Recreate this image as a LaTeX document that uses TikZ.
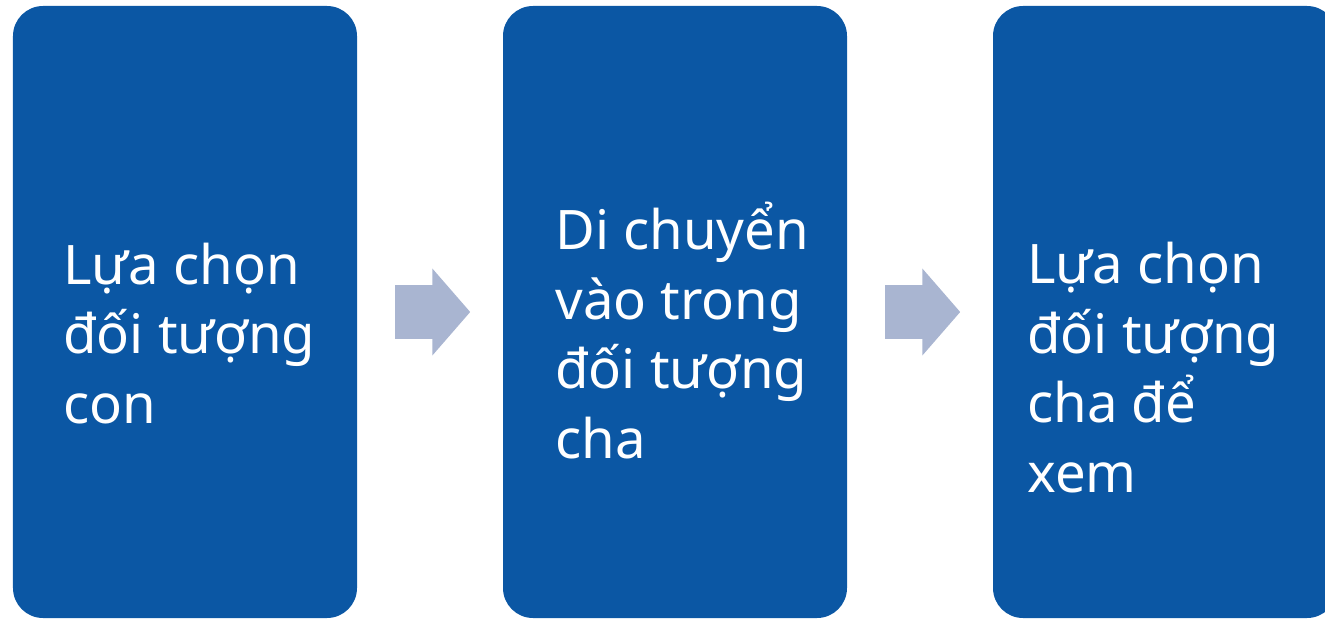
\documentclass[tikz,border=0pt]{standalone}
\usepackage{fontspec}
\setmainfont{Noto Sans}
\usepackage{xcolor}
\usetikzlibrary{calc,shapes.arrows}
\definecolor{boxblue}{RGB}{11,87,164}
\definecolor{arrowgray}{RGB}{169,181,209}

\begin{document}
\begin{tikzpicture}[
    stepbox/.style={rectangle,rounded corners=0.6cm,fill=boxblue,minimum width=6.88cm,minimum height=12.24cm},
    boxtext/.style={text=white,align=left,inner sep=0pt,anchor=base west,font=\fontsize{31}{39.5}\selectfont},
    flowarrow/.style={single arrow,fill=arrowgray,minimum height=1.5cm,inner xsep=0pt,inner ysep=0.53cm,single arrow head extend=0.33cm,single arrow tip angle=98}]
        \useasboundingbox (0,0) rectangle (26.5,12.4);
        \clip (0,0) rectangle (26.5,12.4);
        \node[stepbox] (b1) at (3.7,6.16) {};
        \node[stepbox] (b2) at (13.5,6.16) {};
        \node[stepbox] (b3) at (23.3,6.16) {};
        \node[flowarrow] (a1) at ($(b1.east)!0.5!(b2.west)+(-0.18,0)$) {};
        \node[flowarrow] (a2) at ($(b2.east)!0.5!(b3.west)+(-0.18,0)$) {};
        \node[boxtext] (t1) at (1.26,3.94) {Lựa chọn\\đối tượng\\con};
        \node[boxtext] (t2) at (11.1,3.24) {Di chuyển\\vào trong\\đối tượng\\cha};
        \node[boxtext] (t3) at (20.54,2.56) {Lựa chọn\\đối tượng\\cha để\\xem};
\end{tikzpicture}
\end{document}
